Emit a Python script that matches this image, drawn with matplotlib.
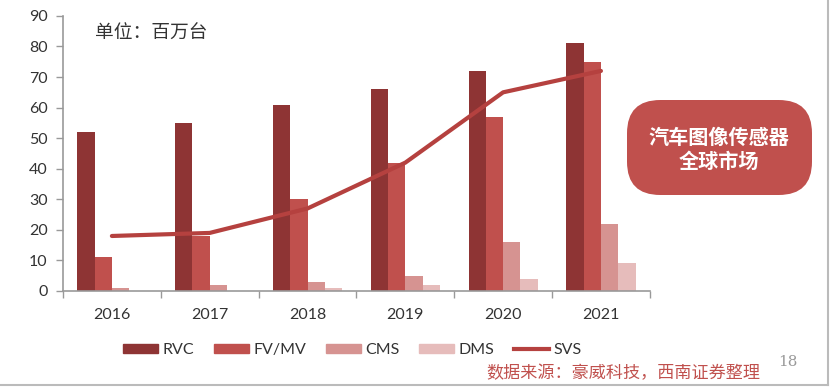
import numpy as np
import matplotlib
matplotlib.use('Agg')
import matplotlib.pyplot as plt
from matplotlib.patches import FancyBboxPatch, Patch
from matplotlib.lines import Line2D

plt.rcParams['font.family'] = ['Lato', 'Noto Sans CJK SC', 'DejaVu Sans']

years = ['2016', '2017', '2018', '2019', '2020', '2021']
rvc = [52, 55, 61, 66, 72, 81]
fvmv = [11, 18, 30, 42, 57, 75]
cms = [1, 2, 3, 5, 16, 22]
dms = [0, 0, 1, 2, 4, 9]
svs = [18, 19, 27, 42, 65, 72]

series = [('RVC', rvc, '#8E3434'), ('FV/MV', fvmv, '#C0504D'),
          ('CMS', cms, '#D69391'), ('DMS', dms, '#E6BCBB')]
line_color = '#B5413F'

fig = plt.figure(figsize=(8.31, 3.88), dpi=100)
ax = fig.add_axes([0.0758, 0.25, 0.7062, 0.709])

x = np.arange(len(years))
w = 0.177
for i, (name, vals, col) in enumerate(series):
    ax.bar(x + (i - 1.5) * w, vals, width=w, color=col, label=name, zorder=2)
ax.plot(x, svs, color=line_color, lw=3, solid_capstyle='round', zorder=3, label='SVS')

ax.set_xlim(-0.5, len(years) - 0.5)
ax.set_ylim(0, 90)
ax.set_yticks(range(0, 91, 10))
ax.set_xticks(x)
ax.set_xticklabels(years)
ax.set_xticks(np.arange(-0.5, len(years)), minor=True)
ax.tick_params(axis='x', which='major', length=0, pad=12, labelsize=11.5, labelcolor='#333333')
ax.tick_params(axis='x', which='minor', length=5, color='#999999', width=1)
ax.tick_params(axis='y', length=5, color='#999999', width=1, labelsize=11.5, labelcolor='#333333', pad=6)
for s in ['top', 'right']:
    ax.spines[s].set_visible(False)
for s in ['left', 'bottom']:
    ax.spines[s].set_color('#999999')
    ax.spines[s].set_linewidth(1.2)

ax.text(0.054, 0.935, '单位：百万台', transform=ax.transAxes, fontsize=13.5,
        color='#333333', va='center', ha='left')

handles = [Patch(color=c, label=n) for n, _, c in series]
handles.append(Line2D([], [], color=line_color, lw=3, label='SVS'))
fig.legend(handles=handles, loc='center', bbox_to_anchor=(0.424, 0.098), ncol=5,
           frameon=False, fontsize=11.5, handlelength=2.2, handleheight=0.55,
           handletextpad=0.3, columnspacing=1.2, labelcolor='#333333')

box = FancyBboxPatch((627 / 831, 1 - 195 / 388), 185 / 831, 95 / 388,
                     boxstyle='round,pad=0,rounding_size=0.04',
                     transform=fig.transFigure, facecolor='#C0504D',
                     edgecolor='none', mutation_aspect=831 / 388)
fig.patches.append(box)
fig.text(719 / 831, 1 - 138 / 388, '汽车图像传感器', color='white', fontsize=14.5,
         fontweight='bold', ha='center', va='center')
fig.text(719 / 831, 1 - 162 / 388, '全球市场', color='white', fontsize=14.5,
         fontweight='bold', ha='center', va='center')

fig.text(623 / 831, 1 - 373 / 388, '数据来源：豪威科技，西南证券整理', color='#C0504D',
         fontsize=12.3, ha='center', va='center')
fig.text(788 / 831, 1 - 362 / 388, '18', color='#999999', fontsize=11,
         family='DejaVu Serif', ha='center', va='center')

fig.add_artist(Line2D([0, 828 / 831], [1 - 385 / 388] * 2, transform=fig.transFigure,
                      color='#BBBBBB', lw=1.5))
fig.add_artist(Line2D([828 / 831] * 2, [1 - 385 / 388, 1], transform=fig.transFigure,
                      color='#BBBBBB', lw=1.5))

fig.savefig('out.png', dpi=100, facecolor='white')
